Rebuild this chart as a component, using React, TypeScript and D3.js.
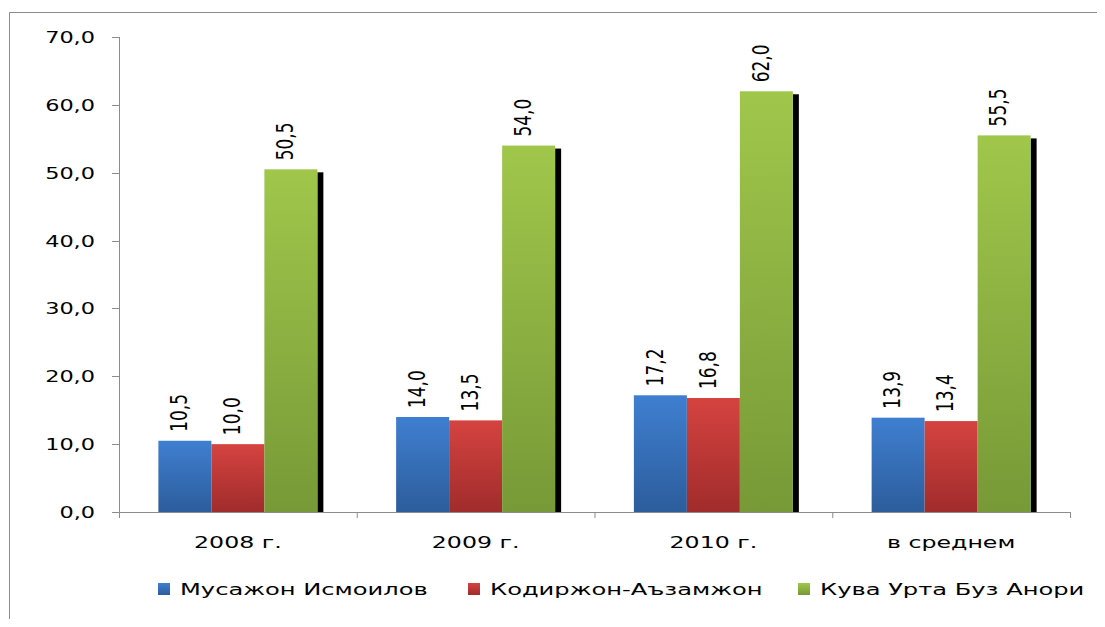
import React from 'react';
import * as d3 from 'd3';

const categories = ['2008 г.', '2009 г.', '2010 г.', 'в среднем'];
const seriesNames = ['Мусажон Исмоилов', 'Кодиржон-Аъзамжон', 'Кува Урта Буз Анори'];
const musazhon = [10.5, 14.0, 17.2, 13.9];
const kodirzhon = [10.0, 13.5, 16.8, 13.4];
const kuva = [50.5, 54.0, 62.0, 55.5];
const yTicks = [0, 10, 20, 30, 40, 50, 60, 70];

const seriesValues = [musazhon, kodirzhon, kuva];
const gradients = [
  ['#3f7fd0', '#2c5d9c'],
  ['#d54340', '#a02c2b'],
  ['#a0c74b', '#779937'],
];

const W = 1089;
const H = 611;
const SX = 1.4; // reference text is stretched horizontally
const font = 'DejaVu Sans, Verdana, sans-serif';
const fmt = (v: number) => v.toFixed(1).replace('.', ',');

const App = () => {
  const left = 111;
  const right = 1062;
  const top = 29;
  const bottom = 504;

  const x0 = d3.scaleBand<string>().domain(categories).range([left, right]).padding(0);
  const x1 = d3.scaleBand<number>()
    .domain([0, 1, 2])
    .range([0, x0.bandwidth()])
    .paddingInner(0)
    .paddingOuter(0.743);
  const y = d3.scaleLinear().domain([0, 70]).range([bottom, top]);

  return (
    <svg width={W} height={H} style={{ display: 'block', fontFamily: font }}>
      <defs>
        {gradients.map((g, i) => (
          <linearGradient key={i} id={`grad${i}`} x1="0" y1="0" x2="0" y2="1">
            <stop offset="0%" stopColor={g[0]} />
            <stop offset="100%" stopColor={g[1]} />
          </linearGradient>
        ))}
      </defs>
      {/* chart frame */}
      <path d={`M1.5,${H} V4.5 H${W}`} fill="none" stroke="#8c8c8c" strokeWidth={1} />

      {/* y axis */}
      <line x1={left + 0.5} x2={left + 0.5} y1={top} y2={bottom + 6} stroke="#8c8c8c" />
      {yTicks.map(t => (
        <g key={t} transform={`translate(0,${Math.round(y(t)) + 0.5})`}>
          <line x1={left - 7} x2={left} stroke="#8c8c8c" />
          <g transform={`translate(${left - 24},0) scale(${SX},1)`}>
            <text textAnchor="end" dy="0.35em" fontSize={16} fill="#000">
              {fmt(t)}
            </text>
          </g>
        </g>
      ))}

      {/* shadows behind the tallest series */}
      {categories.map((c, ci) => (
        <rect
          key={`sh${ci}`}
          x={(x0(c) as number) + (x1(2) as number) + x1.bandwidth()}
          y={y(kuva[ci]) + 3}
          width={6}
          height={bottom - y(kuva[ci]) - 3}
          fill="#000"
        />
      ))}

      {/* bars */}
      {seriesValues.map((vals, si) =>
        categories.map((c, ci) => (
          <rect
            key={`b${si}-${ci}`}
            x={(x0(c) as number) + (x1(si) as number)}
            y={y(vals[ci])}
            width={x1.bandwidth()}
            height={bottom - y(vals[ci])}
            fill={`url(#grad${si})`}
          />
        ))
      )}

      {/* value labels, rotated */}
      {seriesValues.map((vals, si) =>
        categories.map((c, ci) => (
          <g
            key={`l${si}-${ci}`}
            transform={`translate(${(x0(c) as number) + (x1(si) as number) + x1.bandwidth() / 2 - 6},${y(vals[ci]) - 9})`}
          >
            <g transform={`scale(${SX},1)`}>
              <g transform="rotate(-90)">
                <text textAnchor="start" dy="0.35em" fontSize={17} fill="#000">
                  {fmt(vals[ci])}
                </text>
              </g>
            </g>
          </g>
        ))
      )}

      {/* x axis */}
      <line x1={left - 7} x2={right} y1={bottom + 0.5} y2={bottom + 0.5} stroke="#8c8c8c" />
      {[...categories.map(c => x0(c) as number), right].map((xv, i) => (
        <line key={`xt${i}`} x1={xv + 0.5} x2={xv + 0.5} y1={bottom} y2={bottom + 6} stroke="#8c8c8c" />
      ))}
      {categories.map(c => (
        <g
          key={`c${c}`}
          transform={`translate(${(x0(c) as number) + x0.bandwidth() / 2},${bottom + 36}) scale(1.48,1)`}
        >
          <text textAnchor="middle" fontSize={16} fill="#000">
            {c}
          </text>
        </g>
      ))}

      {/* legend */}
      {seriesNames.map((n, i) => {
        const lx = [150, 460, 790][i];
        return (
          <g key={n} transform={`translate(${lx},585)`}>
            <rect x={0} y={-10} width={12} height={12} fill={`url(#grad${i})`} />
            <g transform="translate(22,0) scale(1.51,1)">
              <text dy="0.35em" y={-4} fontSize={16} fill="#000">
                {n}
              </text>
            </g>
          </g>
        );
      })}
    </svg>
  );
};

export default App;
